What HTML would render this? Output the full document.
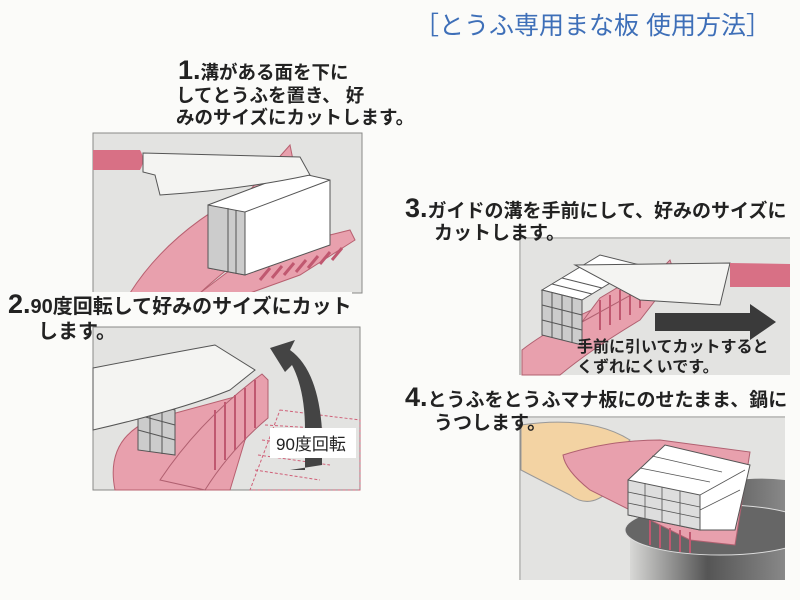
<!DOCTYPE html>
<html><head><meta charset="utf-8"><style>
body{margin:0;background:#fbfbf9;width:800px;height:600px;overflow:hidden;position:relative;font-family:"Liberation Sans","Noto Sans CJK JP",sans-serif}
.t{position:absolute;font-weight:bold;color:#222;font-size:18.5px;line-height:24px;white-space:nowrap}
.n{font-size:27px;font-family:"Liberation Sans",sans-serif}
svg{position:absolute;left:0;top:0}
</style></head><body>
<svg width="800" height="600" viewBox="0 0 800 600">
<defs><linearGradient id="pot" x1="0" x2="1"><stop offset="0" stop-color="#d8d8d6"/><stop offset="0.5" stop-color="#555"/><stop offset="1" stop-color="#888"/></linearGradient>
<clipPath id="c4"><rect x="521" y="418" width="264" height="162"/></clipPath></defs>
<!-- Panel 1 -->
<rect x="93" y="133" width="269" height="160" fill="#e3e3e1" stroke="#888" stroke-width="1"/>
<path d="M130 293 Q170 230 250 190 L290 145 L295 170 L305 180 L310 190 L280 230 Q230 265 200 293 Z" fill="#e8a0ad" stroke="#b86070"/>
<path d="M200 293 L250 255 L350 230 L355 240 L300 275 L250 293 Z" fill="#e8a0ad" stroke="#b86070"/>
<g stroke="#c05870" stroke-width="3"><line x1="260" y1="280" x2="270" y2="268"/><line x1="272" y1="278" x2="282" y2="266"/><line x1="284" y1="275" x2="294" y2="263"/><line x1="296" y1="272" x2="306" y2="260"/><line x1="308" y1="268" x2="318" y2="256"/><line x1="320" y1="264" x2="330" y2="252"/><line x1="332" y1="260" x2="342" y2="248"/></g>
<path d="M208 205 L295 172 L330 180 L330 245 L245 275 L208 268 Z" fill="#fff" stroke="#555"/>
<path d="M208 205 L245 212 L245 275 L208 268 Z" fill="#ccc" stroke="#555"/>
<line x1="228" y1="208" x2="228" y2="272" stroke="#555"/><line x1="236" y1="210" x2="236" y2="273" stroke="#555"/>
<path d="M245 212 L330 180" stroke="#555" fill="none"/>
<path d="M93 150 L140 150 Q146 160 140 170 L93 170 Z" fill="#d87085"/>
<path d="M143 153 L300 157 L310 175 Q240 190 160 195 L155 175 L143 172 Z" fill="#f4f4f2" stroke="#555"/>
<!-- Panel 2 -->
<rect x="93" y="327" width="267" height="163" fill="#e3e3e1" stroke="#888"/>
<path d="M115 490 Q105 440 150 420 L260 390 L230 490 Z" fill="#e8a0ad" stroke="#b86070"/>
<path d="M280 410 L360 420 L360 490 L250 490 Z" fill="none" stroke="#d06078" stroke-dasharray="3 2"/>
<g stroke="#d06078" stroke-dasharray="3 2"><line x1="265" y1="425" x2="350" y2="430"/><line x1="262" y1="440" x2="340" y2="450"/><line x1="258" y1="455" x2="330" y2="465"/><line x1="255" y1="470" x2="320" y2="480"/></g>
<path d="M160 480 Q200 420 262 374 L268 380 L268 418 Q230 450 205 490 Z" fill="#e8a0ad" stroke="#b06070"/>
<g stroke="#c05870" stroke-width="2"><line x1="215" y1="410" x2="215" y2="470"/><line x1="225" y1="402" x2="225" y2="460"/><line x1="235" y1="395" x2="235" y2="450"/><line x1="245" y1="388" x2="245" y2="440"/><line x1="255" y1="380" x2="255" y2="428"/></g>
<path d="M138 400 L175 410 L175 455 L138 450 Z" fill="#ccc" stroke="#555"/>
<g stroke="#555"><line x1="150" y1="402" x2="150" y2="452"/><line x1="162" y1="406" x2="162" y2="454"/><line x1="138" y1="415" x2="175" y2="425"/><line x1="138" y1="430" x2="175" y2="440"/></g>
<path d="M93 368 Q160 355 215 345 L255 370 L230 390 Q180 410 93 430 Z" fill="#f4f4f2" stroke="#555"/>
<path d="M290 470 L322 465 L322 430 Q318 370 290 350 L295 340 L270 348 L285 372 L292 365 Q305 390 305 430 L305 470 Z" fill="#444"/>
<rect x="270" y="428" width="86" height="30" fill="#fff"/>
<text x="276" y="450" font-size="17" font-family="Liberation Sans,Noto Sans CJK JP,sans-serif" fill="#222">90度回転</text>
<!-- Panel 3 -->
<path d="M520 375 L520 238 M520 238 L790 238" stroke="#888" fill="none"/>
<rect x="521" y="239" width="269" height="136" fill="#e3e3e1"/>
<path d="M522 350 Q560 320 640 290 L670 260 L675 275 L640 320 Q590 350 560 375 L522 375 Z" fill="#e8a0ad" stroke="#b06070"/>
<path d="M582 322 L640 290 L650 268 L600 298 Z" fill="#e8a0ad" stroke="#b06070"/>
<g stroke="#c05870" stroke-width="2"><line x1="600" y1="300" x2="600" y2="330"/><line x1="610" y1="295" x2="610" y2="325"/><line x1="620" y1="290" x2="620" y2="320"/><line x1="630" y1="286" x2="630" y2="315"/><line x1="640" y1="282" x2="640" y2="308"/></g>
<path d="M542 290 L600 255 L640 265 L582 300 Z" fill="#fff" stroke="#555"/>
<path d="M542 290 L582 300 L582 345 L542 335 Z" fill="#ccc" stroke="#555"/>
<g stroke="#555"><line x1="552" y1="292" x2="552" y2="338"/><line x1="562" y1="295" x2="562" y2="340"/><line x1="572" y1="297" x2="572" y2="343"/><line x1="542" y1="305" x2="582" y2="315"/><line x1="542" y1="320" x2="582" y2="330"/><line x1="552" y1="284" x2="592" y2="294"/><line x1="562" y1="278" x2="602" y2="288"/></g>
<path d="M575 265 L730 263 L720 305 L640 300 Z" fill="#f4f4f2" stroke="#555"/>
<path d="M730 263 L790 264 L790 287 L730 287 Z" fill="#d87085"/>
<path d="M655 313 L750 313 L750 304 L776 322 L750 340 L750 331 L655 331 Z" fill="#3a3a3a"/>
<!-- Panel 4 -->
<path d="M520 580 L520 417 L785 417" stroke="#888" fill="none"/>
<rect x="521" y="418" width="264" height="162" fill="#e3e3e1"/>
<g clip-path="url(#c4)">
<path d="M630 580 L630 530 Q700 470 785 480 L785 580 Z" fill="url(#pot)"/>
<ellipse cx="720" cy="530" rx="95" ry="25" fill="#666" stroke="#ddd"/>
</g>
<path d="M521 425 Q590 415 630 440 L620 450 Q600 470 610 490 Q590 510 570 495 Q540 480 521 470 Z" fill="#f3d3a3" stroke="#999"/>
<path d="M563 455 Q610 440 660 440 L750 452 L735 545 L690 540 Q630 510 590 490 Q565 470 563 455 Z" fill="#e8a0ad" stroke="#b06070"/>
<g stroke="#c05870" stroke-width="2"><line x1="650" y1="520" x2="650" y2="545"/><line x1="660" y1="525" x2="660" y2="548"/><line x1="670" y1="528" x2="670" y2="550"/><line x1="680" y1="530" x2="680" y2="552"/><line x1="690" y1="532" x2="690" y2="553"/></g>
<path d="M628 480 L665 445 L750 465 L735 530 L700 530 L628 515 Z" fill="#fff" stroke="#555"/>
<path d="M628 480 L700 495 L700 530 L628 515 Z" fill="#ddd" stroke="#555"/>
<g stroke="#555" stroke-width="0.8"><line x1="640" y1="468" x2="710" y2="482"/><line x1="652" y1="456" x2="722" y2="472"/><line x1="628" y1="492" x2="700" y2="507"/><line x1="628" y1="503" x2="700" y2="518"/><line x1="645" y1="483" x2="645" y2="518"/><line x1="662" y1="487" x2="662" y2="522"/><line x1="680" y1="491" x2="680" y2="526"/><line x1="700" y1="495" x2="745" y2="470"/><line x1="700" y1="510" x2="740" y2="490"/></g>
</svg>
<div style="position:absolute;left:414px;top:6px;font-size:25px;color:#3e6fb8;font-family:'Liberation Sans','Noto Sans CJK JP',sans-serif;white-space:nowrap">［とうふ専用まな板 使用方法］</div>
<div class="t" style="left:178px;top:58px"><span class="n">1.</span>溝がある面を下に</div>
<div class="t" style="left:176px;top:84px">してとうふを置き、 好</div>
<div class="t" style="left:176px;top:106px">みのサイズにカットします。</div>
<div class="t" style="left:8px;top:292px;background:#fbfbf9;font-size:20px"><span class="n">2.</span>90度回転して好みのサイズにカット</div>
<div class="t" style="left:38px;top:320px;font-size:20px">します。</div>
<div class="t" style="left:405px;top:196px;font-size:19px"><span class="n">3.</span>ガイドの溝を手前にして、好みのサイズに</div>
<div class="t" style="left:434px;top:222px;font-size:19px">カットします。</div>
<div class="t" style="left:577px;top:338px;font-size:16px;line-height:20px">手前に引いてカットすると<br>くずれにくいです。</div>
<div class="t" style="left:405px;top:385px;background:#fbfbf9;font-size:19px"><span class="n">4.</span>とうふをとうふマナ板にのせたまま、鍋に</div>
<div class="t" style="left:434px;top:412px;font-size:19px">うつします。</div>
</body></html>
